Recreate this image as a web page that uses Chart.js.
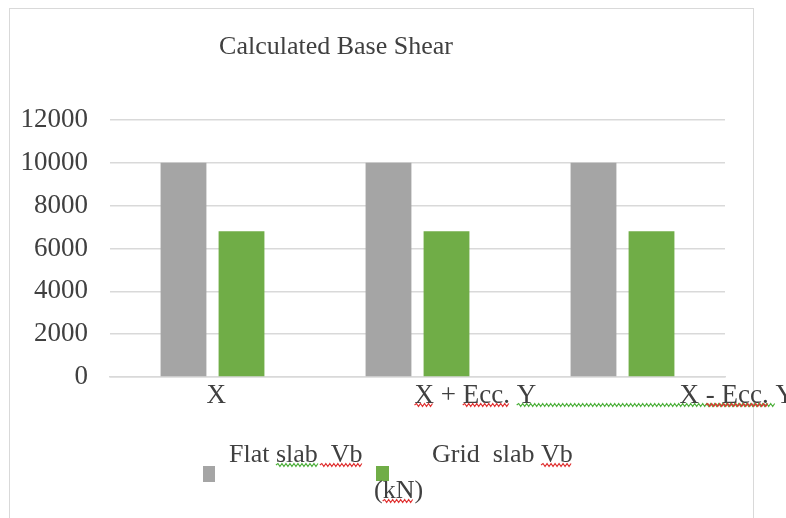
<!DOCTYPE html>
<html>
<head>
<meta charset="utf-8">
<title>Calculated Base Shear</title>
<script src="https://cdn.jsdelivr.net/npm/chart.js@4.4.0/dist/chart.umd.min.js"></script>
<style>
    html, body { margin: 0; padding: 0; background: #fff; }
    #wrap { position: relative; width: 786px; height: 518px; overflow: hidden; }
    #frame { position: absolute; left: 9px; top: 8px; width: 743px; height: 540px; border: 1.5px solid #d9d9d9; }
    canvas { position: absolute; left: 0; top: 0; }
</style>
</head>
<body>
<div id="wrap">
    <div id="frame"></div>
    <canvas id="chart" width="786" height="518"></canvas>
</div>
<script>
const chartTitle = 'Calculated Base Shear';
const categories = ['X', 'X + Ecc. Y', 'X - Ecc. Y'];
const seriesNames = ['Flat slab  Vb', 'Grid  slab Vb'];
const unitLabel = '(kN)';
const flatSlabVb = [10000, 10000, 10000];
const gridSlabVb = [6800, 6800, 6800];
const yTicks = [0, 2000, 4000, 6000, 8000, 10000, 12000];

const FONT = '"Liberation Serif", "Times New Roman", serif';
const TEXT = '#404040';
const GRID = '#d9d9d9';

// wavy "spell check" underline
function wavy(ctx, x1, x2, y, color) {
    ctx.save();
    ctx.strokeStyle = color;
    ctx.lineWidth = 1.2;
    ctx.beginPath();
    let up = true;
    ctx.moveTo(x1, y);
    for (let x = x1 + 2; x <= x2; x += 2) {
        ctx.lineTo(x, up ? y - 1.5 : y + 1.5);
        up = !up;
    }
    ctx.stroke();
    ctx.restore();
}

const decorPlugin = {
    id: 'decor',
    afterDraw(chart) {
        const ctx = chart.ctx;
        const xs = chart.scales.x;
        ctx.save();
        ctx.fillStyle = TEXT;

        // title
        ctx.font = '26px ' + FONT;
        ctx.textAlign = 'center';
        ctx.textBaseline = 'alphabetic';
        ctx.fillText(chartTitle, 336, 54);

        // category labels (start near each category centre, like the original)
        ctx.font = '27px ' + FONT;
        ctx.textAlign = 'left';
        const shift = [-6, -3, 57];
        const starts = categories.map((c, i) => xs.getPixelForValue(i) + shift[i]);
        const base = 403;
        categories.forEach((c, i) => ctx.fillText(c, starts[i], base));
        const w = s => ctx.measureText(s).width;
        const s2 = starts[1], s3 = starts[2];
        wavy(ctx, s2, s2 + w('X'), base + 2, '#e03030');
        wavy(ctx, s2 + w('X + '), s2 + w('X + Ecc.'), base + 2, '#e03030');
        wavy(ctx, s2 + w('X + Ecc. '), s3 + w('X - Ecc. '), base + 2, '#4caf3a');
        wavy(ctx, s3 + w('X '), s3 + w('X - Ecc.'), base + 2, '#e03030');

        // legend
        const ds = chart.data.datasets;
        ctx.fillStyle = ds[0].backgroundColor;
        ctx.fillRect(203, 466, 12, 16);
        ctx.fillStyle = ds[1].backgroundColor;
        ctx.fillRect(376, 466, 13, 15);

        ctx.font = '26px ' + FONT;
        ctx.fillStyle = TEXT;
        const lb = 462;
        ctx.fillText(seriesNames[0], 229, lb);
        ctx.fillText(seriesNames[1], 432, lb);
        ctx.fillText(unitLabel, 374, 498);

        wavy(ctx, 229 + w('Flat '), 229 + w('Flat slab') + 2, lb + 3, '#4caf3a');
        wavy(ctx, 229 + w('Flat slab') + 2, 229 + w(seriesNames[0]), lb + 3, '#e03030');
        wavy(ctx, 432 + w('Grid  slab '), 432 + w(seriesNames[1]), lb + 3, '#e03030');
        wavy(ctx, 374 + w('('), 374 + w('(kN'), 501, '#e03030');
        ctx.restore();
    }
};

new Chart(document.getElementById('chart'), {
    type: 'bar',
    data: {
        labels: categories,
        datasets: [
            { label: seriesNames[0], data: flatSlabVb, backgroundColor: '#a5a5a5' },
            { label: seriesNames[1], data: gridSlabVb, backgroundColor: '#70ad47' }
        ]
    },
    options: {
        responsive: false,
        animation: false,
        devicePixelRatio: 1,
        categoryPercentage: 0.566,
        barPercentage: 0.79,
        layout: { padding: { top: 120, right: 61, left: 0, bottom: 0 } },
        plugins: {
            legend: { display: false },
            title: { display: false },
            tooltip: { enabled: false }
        },
        scales: {
            x: {
                ticks: { display: false },
                grid: { display: false },
                border: { color: GRID, width: 1.5 },
                afterFit: s => { s.height = 141; }
            },
            y: {
                min: 0,
                max: 12000,
                afterBuildTicks: s => { s.ticks = yTicks.map(v => ({ value: v })); },
                ticks: {
                    font: { family: FONT, size: 27 },
                    color: TEXT,
                    padding: 22,
                    callback: v => String(v)
                },
                grid: { color: GRID, lineWidth: 1.5, drawTicks: false },
                border: { display: false },
                afterFit: s => { s.width = 110; }
            }
        }
    },
    plugins: [decorPlugin]
});
</script>
</body>
</html>
